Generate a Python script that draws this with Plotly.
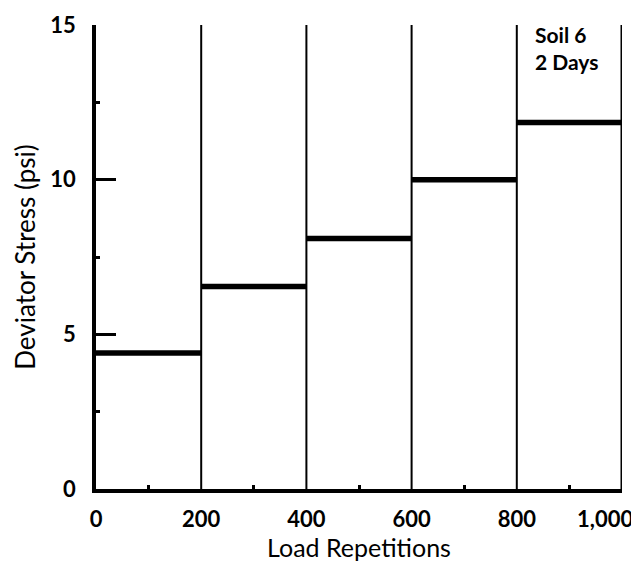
import plotly.graph_objects as go

# Data
step_start = [0, 200, 400, 600, 800]
step_end = [200, 400, 600, 800, 1000]
deviator_stress = [4.4, 6.55, 8.1, 10.0, 11.85]
x_tick_vals = [0, 200, 400, 600, 800, 1000]
x_tick_text = ["0", "200", "400", "600", "800", "1,000"]
x_minor_vals = [100, 300, 500, 700, 900]
y_tick_vals = [0, 5, 10, 15]
y_tick_text = ["0", "5", "10", "15"]
y_minor_vals = [2.5, 7.5, 12.5]
boundaries = [200, 400, 600, 800]

xs, ys = [], []
for a, b, s in zip(step_start, step_end, deviator_stress):
    xs += [a, b, None]
    ys += [s, s, None]

fig = go.Figure()
for bx in boundaries:
    fig.add_trace(go.Scatter(x=[bx, bx], y=[0, 15], mode="lines",
                             line=dict(color="black", width=2), showlegend=False, hoverinfo="skip"))
fig.add_trace(go.Scatter(x=[1000, 1000], y=[0, 15], mode="lines",
                         line=dict(color="black", width=3), showlegend=False, hoverinfo="skip"))
fig.add_trace(go.Scatter(x=xs, y=ys, mode="lines",
                         line=dict(color="black", width=5.5), showlegend=False))

font_family = "Lato, 'Open Sans', sans-serif"
tick_font = dict(size=22, family=font_family, weight="bold", color="black")

# last x tick label is drawn right-aligned so it stays inside the page
annotations = [dict(x=x_tick_vals[-1], y=0, xref="x", yref="y", xanchor="right", yanchor="middle",
                    xshift=13, yshift=-29, text=x_tick_text[-1], showarrow=False,
                    font=tick_font),
               dict(x=830, y=15, xref="x", yref="y", xanchor="left", yanchor="top", yshift=5,
                    text="Soil 6<br>2 Days", showarrow=False, align="left",
                    font=dict(size=21, family=font_family, weight="bold"))]

fig.update_layout(
    width=631, height=559,
    margin=dict(l=88, r=17, t=17, b=78),
    paper_bgcolor="white", plot_bgcolor="white",
    font=dict(family=font_family, color="black"),
    xaxis=dict(range=[0, 1000], showgrid=False, zeroline=False, automargin=False,
               showline=True, linecolor="black", linewidth=3.5,
               tickvals=x_tick_vals[:-1], ticktext=x_tick_text[:-1], ticks="",
               ticklabelstandoff=8, ticklabeloverflow="allow",
               tickfont=tick_font,
               minor=dict(ticks="inside", tickvals=x_minor_vals, ticklen=4,
                          tickwidth=3, tickcolor="black"),
               title=dict(text="Load Repetitions", font=dict(size=25), standoff=4)),
    yaxis=dict(range=[0, 15], showgrid=False, zeroline=False, automargin=False,
               showline=True, linecolor="black", linewidth=3.5,
               tickvals=y_tick_vals, ticktext=y_tick_text,
               ticks="inside", ticklen=20, tickwidth=3, tickcolor="black",
               ticklabelstandoff=12, ticklabeloverflow="allow",
               tickfont=tick_font,
               minor=dict(ticks="inside", tickvals=y_minor_vals, ticklen=4,
                          tickwidth=3, tickcolor="black"),
               title=dict(text="Deviator Stress (psi)", font=dict(size=26), standoff=8)),
    annotations=annotations,
)

fig.write_html("out.html")
